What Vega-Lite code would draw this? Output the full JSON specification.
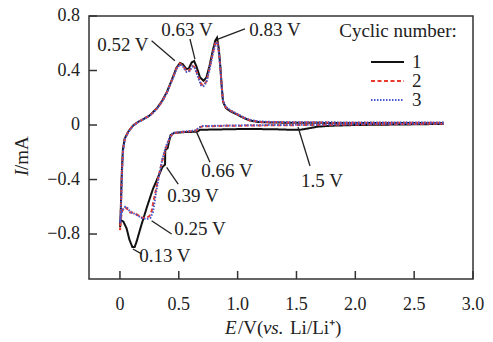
{
"$schema": "https://vega.github.io/schema/vega-lite/v6.json",
"width": 384, "height": 263,
"autosize": {"type": "none"},
"padding": {"left": 89, "top": 16, "right": 20, "bottom": 63},
"background": "white",
"config": {"view": {"stroke": "#333333", "strokeWidth": 1.5}, "font": "Liberation Serif",
 "legend": {"labelFont": "Liberation Serif", "labelFontSize": 19, "labelColor": "#222222"},
 "text": {"font": "Liberation Serif"}},
"datasets": {
"cv": [
{"c":"1","i":0,"E":2.75,"I":0.008},{"c":"1","i":1,"E":2.5,"I":0.005},{"c":"1","i":2,"E":2.2,"I":0.002},{"c":"1","i":3,"E":2.0,"I":0.0},{"c":"1","i":4,"E":1.8,"I":-0.005},{"c":"1","i":5,"E":1.68,"I":-0.012},{"c":"1","i":6,"E":1.6,"I":-0.025},{"c":"1","i":7,"E":1.53,"I":-0.035},{"c":"1","i":8,"E":1.45,"I":-0.035},{"c":"1","i":9,"E":1.35,"I":-0.032},{"c":"1","i":10,"E":1.2,"I":-0.03},{"c":"1","i":11,"E":1.0,"I":-0.03},{"c":"1","i":12,"E":0.8,"I":-0.033},{"c":"1","i":13,"E":0.68,"I":-0.035},{"c":"1","i":14,"E":0.66,"I":-0.048},{"c":"1","i":15,"E":0.63,"I":-0.05},{"c":"1","i":16,"E":0.55,"I":-0.052},{"c":"1","i":17,"E":0.46,"I":-0.058},{"c":"1","i":18,"E":0.43,"I":-0.075},{"c":"1","i":19,"E":0.415,"I":-0.13},{"c":"1","i":20,"E":0.405,"I":-0.17},{"c":"1","i":21,"E":0.385,"I":-0.185},{"c":"1","i":22,"E":0.383,"I":-0.29},{"c":"1","i":23,"E":0.36,"I":-0.31},{"c":"1","i":24,"E":0.33,"I":-0.37},{"c":"1","i":25,"E":0.28,"I":-0.47},{"c":"1","i":26,"E":0.23,"I":-0.6},{"c":"1","i":27,"E":0.18,"I":-0.74},{"c":"1","i":28,"E":0.14,"I":-0.86},{"c":"1","i":29,"E":0.125,"I":-0.895},{"c":"1","i":30,"E":0.105,"I":-0.895},{"c":"1","i":31,"E":0.08,"I":-0.84},{"c":"1","i":32,"E":0.057,"I":-0.76},{"c":"1","i":33,"E":0.03,"I":-0.71},{"c":"1","i":34,"E":0.01,"I":-0.7},{"c":"1","i":35,"E":0.0,"I":-0.71},
{"c":"1","i":36,"E":0.002,"I":-0.75},{"c":"1","i":37,"E":0.008,"I":-0.6},{"c":"1","i":38,"E":0.012,"I":-0.45},{"c":"1","i":39,"E":0.018,"I":-0.3},{"c":"1","i":40,"E":0.025,"I":-0.18},{"c":"1","i":41,"E":0.04,"I":-0.1},{"c":"1","i":42,"E":0.07,"I":-0.05},{"c":"1","i":43,"E":0.11,"I":-0.005},{"c":"1","i":44,"E":0.15,"I":0.02},{"c":"1","i":45,"E":0.2,"I":0.044},{"c":"1","i":46,"E":0.25,"I":0.068},{"c":"1","i":47,"E":0.28,"I":0.093},{"c":"1","i":48,"E":0.32,"I":0.13},{"c":"1","i":49,"E":0.36,"I":0.18},{"c":"1","i":50,"E":0.4,"I":0.245},{"c":"1","i":51,"E":0.44,"I":0.33},{"c":"1","i":52,"E":0.48,"I":0.42},{"c":"1","i":53,"E":0.51,"I":0.455},{"c":"1","i":54,"E":0.535,"I":0.445},{"c":"1","i":55,"E":0.565,"I":0.41},{"c":"1","i":56,"E":0.585,"I":0.415},{"c":"1","i":57,"E":0.61,"I":0.46},{"c":"1","i":58,"E":0.63,"I":0.47},{"c":"1","i":59,"E":0.65,"I":0.43},{"c":"1","i":60,"E":0.68,"I":0.35},{"c":"1","i":61,"E":0.71,"I":0.325},{"c":"1","i":62,"E":0.735,"I":0.35},{"c":"1","i":63,"E":0.76,"I":0.43},{"c":"1","i":64,"E":0.79,"I":0.55},{"c":"1","i":65,"E":0.81,"I":0.62},{"c":"1","i":66,"E":0.825,"I":0.64},{"c":"1","i":67,"E":0.84,"I":0.56},{"c":"1","i":68,"E":0.853,"I":0.43},{"c":"1","i":69,"E":0.865,"I":0.28},{"c":"1","i":70,"E":0.876,"I":0.17},{"c":"1","i":71,"E":0.9,"I":0.125},{"c":"1","i":72,"E":0.94,"I":0.1},{"c":"1","i":73,"E":1.0,"I":0.075},{"c":"1","i":74,"E":1.05,"I":0.052},{"c":"1","i":75,"E":1.1,"I":0.034},{"c":"1","i":76,"E":1.17,"I":0.022},{"c":"1","i":77,"E":1.3,"I":0.018},{"c":"1","i":78,"E":1.6,"I":0.016},{"c":"1","i":79,"E":2.0,"I":0.015},{"c":"1","i":80,"E":2.4,"I":0.015},{"c":"1","i":81,"E":2.75,"I":0.015},
{"c":"2","i":0,"E":2.75,"I":0.01},{"c":"2","i":1,"E":2.4,"I":0.007},{"c":"2","i":2,"E":2.0,"I":0.004},{"c":"2","i":3,"E":1.6,"I":0.0},{"c":"2","i":4,"E":1.2,"I":-0.003},{"c":"2","i":5,"E":0.9,"I":-0.006},{"c":"2","i":6,"E":0.7,"I":-0.01},{"c":"2","i":7,"E":0.67,"I":-0.02},{"c":"2","i":8,"E":0.65,"I":-0.04},{"c":"2","i":9,"E":0.6,"I":-0.045},{"c":"2","i":10,"E":0.52,"I":-0.052},{"c":"2","i":11,"E":0.45,"I":-0.06},{"c":"2","i":12,"E":0.42,"I":-0.1},{"c":"2","i":13,"E":0.39,"I":-0.17},{"c":"2","i":14,"E":0.36,"I":-0.26},{"c":"2","i":15,"E":0.33,"I":-0.37},{"c":"2","i":16,"E":0.3,"I":-0.5},{"c":"2","i":17,"E":0.285,"I":-0.56},{"c":"2","i":18,"E":0.27,"I":-0.63},{"c":"2","i":19,"E":0.25,"I":-0.67},{"c":"2","i":20,"E":0.22,"I":-0.68},{"c":"2","i":21,"E":0.185,"I":-0.68},{"c":"2","i":22,"E":0.15,"I":-0.66},{"c":"2","i":23,"E":0.12,"I":-0.645},{"c":"2","i":24,"E":0.085,"I":-0.64},{"c":"2","i":25,"E":0.06,"I":-0.615},{"c":"2","i":26,"E":0.04,"I":-0.6},{"c":"2","i":27,"E":0.02,"I":-0.63},{"c":"2","i":28,"E":0.005,"I":-0.7},{"c":"2","i":29,"E":0.0,"I":-0.77},
{"c":"2","i":30,"E":0.003,"I":-0.76},{"c":"2","i":31,"E":0.008,"I":-0.6},{"c":"2","i":32,"E":0.013,"I":-0.45},{"c":"2","i":33,"E":0.019,"I":-0.3},{"c":"2","i":34,"E":0.027,"I":-0.18},{"c":"2","i":35,"E":0.042,"I":-0.1},{"c":"2","i":36,"E":0.07,"I":-0.05},{"c":"2","i":37,"E":0.11,"I":-0.005},{"c":"2","i":38,"E":0.15,"I":0.02},{"c":"2","i":39,"E":0.2,"I":0.044},{"c":"2","i":40,"E":0.25,"I":0.068},{"c":"2","i":41,"E":0.28,"I":0.09},{"c":"2","i":42,"E":0.32,"I":0.127},{"c":"2","i":43,"E":0.36,"I":0.175},{"c":"2","i":44,"E":0.4,"I":0.24},{"c":"2","i":45,"E":0.44,"I":0.325},{"c":"2","i":46,"E":0.48,"I":0.415},{"c":"2","i":47,"E":0.51,"I":0.45},{"c":"2","i":48,"E":0.535,"I":0.435},{"c":"2","i":49,"E":0.565,"I":0.395},{"c":"2","i":50,"E":0.59,"I":0.4},{"c":"2","i":51,"E":0.615,"I":0.435},{"c":"2","i":52,"E":0.635,"I":0.425},{"c":"2","i":53,"E":0.66,"I":0.37},{"c":"2","i":54,"E":0.69,"I":0.3},{"c":"2","i":55,"E":0.71,"I":0.29},{"c":"2","i":56,"E":0.735,"I":0.32},{"c":"2","i":57,"E":0.76,"I":0.41},{"c":"2","i":58,"E":0.79,"I":0.53},{"c":"2","i":59,"E":0.81,"I":0.6},{"c":"2","i":60,"E":0.825,"I":0.615},{"c":"2","i":61,"E":0.84,"I":0.54},{"c":"2","i":62,"E":0.853,"I":0.42},{"c":"2","i":63,"E":0.865,"I":0.28},{"c":"2","i":64,"E":0.876,"I":0.175},{"c":"2","i":65,"E":0.9,"I":0.13},{"c":"2","i":66,"E":0.94,"I":0.105},{"c":"2","i":67,"E":1.0,"I":0.078},{"c":"2","i":68,"E":1.05,"I":0.055},{"c":"2","i":69,"E":1.1,"I":0.037},{"c":"2","i":70,"E":1.17,"I":0.025},{"c":"2","i":71,"E":1.3,"I":0.02},{"c":"2","i":72,"E":1.6,"I":0.018},{"c":"2","i":73,"E":2.0,"I":0.017},{"c":"2","i":74,"E":2.4,"I":0.017},{"c":"2","i":75,"E":2.75,"I":0.017},
{"c":"3","i":0,"E":2.75,"I":0.012},{"c":"3","i":1,"E":2.4,"I":0.009},{"c":"3","i":2,"E":2.0,"I":0.006},{"c":"3","i":3,"E":1.6,"I":0.002},{"c":"3","i":4,"E":1.2,"I":-0.001},{"c":"3","i":5,"E":0.9,"I":-0.004},{"c":"3","i":6,"E":0.7,"I":-0.008},{"c":"3","i":7,"E":0.67,"I":-0.018},{"c":"3","i":8,"E":0.65,"I":-0.038},{"c":"3","i":9,"E":0.6,"I":-0.044},{"c":"3","i":10,"E":0.52,"I":-0.05},{"c":"3","i":11,"E":0.45,"I":-0.058},{"c":"3","i":12,"E":0.42,"I":-0.095},{"c":"3","i":13,"E":0.39,"I":-0.16},{"c":"3","i":14,"E":0.36,"I":-0.25},{"c":"3","i":15,"E":0.335,"I":-0.36},{"c":"3","i":16,"E":0.31,"I":-0.48},{"c":"3","i":17,"E":0.295,"I":-0.56},{"c":"3","i":18,"E":0.28,"I":-0.64},{"c":"3","i":19,"E":0.26,"I":-0.68},{"c":"3","i":20,"E":0.23,"I":-0.69},{"c":"3","i":21,"E":0.19,"I":-0.685},{"c":"3","i":22,"E":0.15,"I":-0.665},{"c":"3","i":23,"E":0.12,"I":-0.65},{"c":"3","i":24,"E":0.09,"I":-0.64},{"c":"3","i":25,"E":0.065,"I":-0.61},{"c":"3","i":26,"E":0.045,"I":-0.6},{"c":"3","i":27,"E":0.025,"I":-0.62},{"c":"3","i":28,"E":0.008,"I":-0.66},{"c":"3","i":29,"E":0.0,"I":-0.71},
{"c":"3","i":30,"E":0.004,"I":-0.72},{"c":"3","i":31,"E":0.009,"I":-0.6},{"c":"3","i":32,"E":0.014,"I":-0.45},{"c":"3","i":33,"E":0.02,"I":-0.3},{"c":"3","i":34,"E":0.028,"I":-0.18},{"c":"3","i":35,"E":0.043,"I":-0.1},{"c":"3","i":36,"E":0.072,"I":-0.05},{"c":"3","i":37,"E":0.112,"I":-0.005},{"c":"3","i":38,"E":0.152,"I":0.02},{"c":"3","i":39,"E":0.2,"I":0.043},{"c":"3","i":40,"E":0.25,"I":0.067},{"c":"3","i":41,"E":0.28,"I":0.089},{"c":"3","i":42,"E":0.32,"I":0.126},{"c":"3","i":43,"E":0.36,"I":0.174},{"c":"3","i":44,"E":0.4,"I":0.238},{"c":"3","i":45,"E":0.44,"I":0.322},{"c":"3","i":46,"E":0.48,"I":0.41},{"c":"3","i":47,"E":0.51,"I":0.445},{"c":"3","i":48,"E":0.535,"I":0.43},{"c":"3","i":49,"E":0.565,"I":0.39},{"c":"3","i":50,"E":0.59,"I":0.395},{"c":"3","i":51,"E":0.615,"I":0.43},{"c":"3","i":52,"E":0.635,"I":0.42},{"c":"3","i":53,"E":0.66,"I":0.36},{"c":"3","i":54,"E":0.69,"I":0.29},{"c":"3","i":55,"E":0.71,"I":0.285},{"c":"3","i":56,"E":0.735,"I":0.315},{"c":"3","i":57,"E":0.76,"I":0.405},{"c":"3","i":58,"E":0.79,"I":0.525},{"c":"3","i":59,"E":0.81,"I":0.595},{"c":"3","i":60,"E":0.825,"I":0.61},{"c":"3","i":61,"E":0.84,"I":0.535},{"c":"3","i":62,"E":0.853,"I":0.42},{"c":"3","i":63,"E":0.865,"I":0.28},{"c":"3","i":64,"E":0.876,"I":0.18},{"c":"3","i":65,"E":0.9,"I":0.133},{"c":"3","i":66,"E":0.94,"I":0.107},{"c":"3","i":67,"E":1.0,"I":0.08},{"c":"3","i":68,"E":1.05,"I":0.057},{"c":"3","i":69,"E":1.1,"I":0.039},{"c":"3","i":70,"E":1.17,"I":0.027},{"c":"3","i":71,"E":1.3,"I":0.022},{"c":"3","i":72,"E":1.6,"I":0.02},{"c":"3","i":73,"E":2.0,"I":0.019},{"c":"3","i":74,"E":2.4,"I":0.019},{"c":"3","i":75,"E":2.75,"I":0.019}
],
"labels": [
{"t":"0.52 V","E":0.025,"I":0.587},{"t":"0.63 V","E":0.57,"I":0.697},{"t":"0.83 V","E":1.317,"I":0.697},{"t":"0.66 V","E":0.909,"I":-0.338},{"t":"0.39 V","E":0.62,"I":-0.521},{"t":"0.25 V","E":0.68,"I":-0.763},{"t":"0.13 V","E":0.382,"I":-0.961},{"t":"1.5 V","E":1.717,"I":-0.411},{"t":"Cyclic number:","E":2.363,"I":0.69}
],
"leaders": [
{"E":0.269,"I":0.619,"E2":0.467,"I2":0.472},{"E":0.595,"I":0.631,"E2":0.637,"I2":0.484},{"E":0.833,"I":0.631,"E2":1.062,"I2":0.705},{"E":0.652,"I":-0.054,"E2":0.765,"I2":-0.274},{"E":0.397,"I":-0.31,"E2":0.495,"I2":-0.433},{"E":0.269,"I":-0.702,"E2":0.439,"I2":-0.8},{"E":0.11,"I":-0.91,"E2":0.187,"I2":-0.947},{"E":1.513,"I":-0.015,"E2":1.615,"I2":-0.301}
],
"xticks": [{"t":"0","E":0},{"t":"0.5","E":0.5},{"t":"1.0","E":1.0},{"t":"1.5","E":1.5},{"t":"2.0","E":2.0},{"t":"2.5","E":2.5},{"t":"3.0","E":3.0}],
"yticks": [{"t":"−0.8","I":-0.8},{"t":"−0.4","I":-0.4},{"t":"0","I":0},{"t":"0.4","I":0.4},{"t":"0.8","I":0.8}],
"xtitleItalic": [{"t":"E","E":0.892,"I":-1.534},{"t":"vs.","E":1.215,"I":-1.534}],
"xtitleUpright": [{"t":"/V(","E":1.003,"I":-1.534},{"t":"Li/Li⁺)","E":1.445,"I":-1.534}],
"ytitleItalic": [{"t":"I","E":-0.782,"I":-0.374}],
"ytitleUpright": [{"t":"/mA","E":-0.782,"I":-0.33}]
},
"layer": [
{"data":{"name":"cv"},"mark":{"type":"line","strokeWidth":2,"clip":true},
 "encoding":{
 "x":{"field":"E","type":"quantitative","scale":{"domain":[-0.263,3.0],"nice":false,"zero":false},"axis":null},
 "y":{"field":"I","type":"quantitative","scale":{"domain":[-1.13,0.8],"nice":false,"zero":false},"axis":null},
 "color":{"field":"c","type":"nominal","scale":{"domain":["1","2","3"],"range":["#111111","#e8392b","#4658cc"]},
  "legend":{"title":null,"orient":"none","legendX":281,"legendY":37,"padding":0,"rowPadding":0,"clipHeight":18,"symbolType":"stroke","symbolSize":1089,"symbolStrokeWidth":2,"labelFont":"Liberation Serif","labelFontSize":19,"labelColor":"#222222","labelOffset":7}},
 "strokeDash":{"field":"c","type":"nominal","scale":{"domain":["1","2","3"],"range":[[1,0],[4,2.5],[1.5,1.5]]}},
 "order":{"field":"i","type":"quantitative"}}},
{"data":{"name":"xticks"},"mark":{"type":"rule","color":"#333333","strokeWidth":1.5},
 "encoding":{
 "x":{"field":"E","type":"quantitative","scale":{"domain":[-0.263,3.0],"nice":false,"zero":false},"axis":null},
 "y":{"datum":-1.13,"type":"quantitative","scale":{"domain":[-1.13,0.8],"nice":false,"zero":false},"axis":null},
 "y2":{"datum":-1.071}}},
{"data":{"name":"yticks"},"mark":{"type":"rule","color":"#333333","strokeWidth":1.5},
 "encoding":{
 "x":{"datum":-0.263,"type":"quantitative","scale":{"domain":[-0.263,3.0],"nice":false,"zero":false},"axis":null},
 "x2":{"datum":-0.195},
 "y":{"field":"I","type":"quantitative","scale":{"domain":[-1.13,0.8],"nice":false,"zero":false},"axis":null}}},
{"data":{"name":"leaders"},"mark":{"type":"rule","color":"#222222","strokeWidth":1.3},
 "encoding":{
 "x":{"field":"E","type":"quantitative","scale":{"domain":[-0.263,3.0],"nice":false,"zero":false},"axis":null},
 "y":{"field":"I","type":"quantitative","scale":{"domain":[-1.13,0.8],"nice":false,"zero":false},"axis":null},
 "x2":{"field":"E2"},"y2":{"field":"I2"}}},
{"data":{"name":"labels"},"mark":{"type":"text","font":"Liberation Serif","fontSize":19,"color":"#222222","align":"center","baseline":"middle"},
 "encoding":{
 "x":{"field":"E","type":"quantitative","scale":{"domain":[-0.263,3.0],"nice":false,"zero":false},"axis":null},
 "y":{"field":"I","type":"quantitative","scale":{"domain":[-1.13,0.8],"nice":false,"zero":false},"axis":null},
 "text":{"field":"t"}}},
{"data":{"name":"xticks"},"mark":{"type":"text","font":"Liberation Serif","fontSize":18,"color":"#222222","align":"center","baseline":"middle","dy":26,"clip":false},
 "encoding":{
 "x":{"field":"E","type":"quantitative","scale":{"domain":[-0.263,3.0],"nice":false,"zero":false},"axis":null},
 "y":{"datum":-1.13,"type":"quantitative","scale":{"domain":[-1.13,0.8],"nice":false,"zero":false},"axis":null},
 "text":{"field":"t"}}},
{"data":{"name":"yticks"},"mark":{"type":"text","font":"Liberation Serif","fontSize":18,"color":"#222222","align":"right","baseline":"middle","dx":-9,"clip":false},
 "encoding":{
 "x":{"datum":-0.263,"type":"quantitative","scale":{"domain":[-0.263,3.0],"nice":false,"zero":false},"axis":null},
 "y":{"field":"I","type":"quantitative","scale":{"domain":[-1.13,0.8],"nice":false,"zero":false},"axis":null},
 "text":{"field":"t"}}},
{"data":{"name":"xtitleItalic"},"mark":{"type":"text","font":"Liberation Serif","fontSize":19,"fontStyle":"italic","color":"#222222","align":"left","baseline":"alphabetic","clip":false},
 "encoding":{
 "x":{"field":"E","type":"quantitative","scale":{"domain":[-0.263,3.0],"nice":false,"zero":false},"axis":null},
 "y":{"field":"I","type":"quantitative","scale":{"domain":[-1.13,0.8],"nice":false,"zero":false},"axis":null},
 "text":{"field":"t"}}},
{"data":{"name":"xtitleUpright"},"mark":{"type":"text","font":"Liberation Serif","fontSize":19,"color":"#222222","align":"left","baseline":"alphabetic","clip":false},
 "encoding":{
 "x":{"field":"E","type":"quantitative","scale":{"domain":[-0.263,3.0],"nice":false,"zero":false},"axis":null},
 "y":{"field":"I","type":"quantitative","scale":{"domain":[-1.13,0.8],"nice":false,"zero":false},"axis":null},
 "text":{"field":"t"}}},
{"data":{"name":"ytitleItalic"},"mark":{"type":"text","font":"Liberation Serif","fontSize":19,"fontStyle":"italic","color":"#222222","align":"left","baseline":"alphabetic","angle":270,"clip":false},
 "encoding":{
 "x":{"field":"E","type":"quantitative","scale":{"domain":[-0.263,3.0],"nice":false,"zero":false},"axis":null},
 "y":{"field":"I","type":"quantitative","scale":{"domain":[-1.13,0.8],"nice":false,"zero":false},"axis":null},
 "text":{"field":"t"}}},
{"data":{"name":"ytitleUpright"},"mark":{"type":"text","font":"Liberation Serif","fontSize":19,"color":"#222222","align":"left","baseline":"alphabetic","angle":270,"clip":false},
 "encoding":{
 "x":{"field":"E","type":"quantitative","scale":{"domain":[-0.263,3.0],"nice":false,"zero":false},"axis":null},
 "y":{"field":"I","type":"quantitative","scale":{"domain":[-1.13,0.8],"nice":false,"zero":false},"axis":null},
 "text":{"field":"t"}}}
]
}
